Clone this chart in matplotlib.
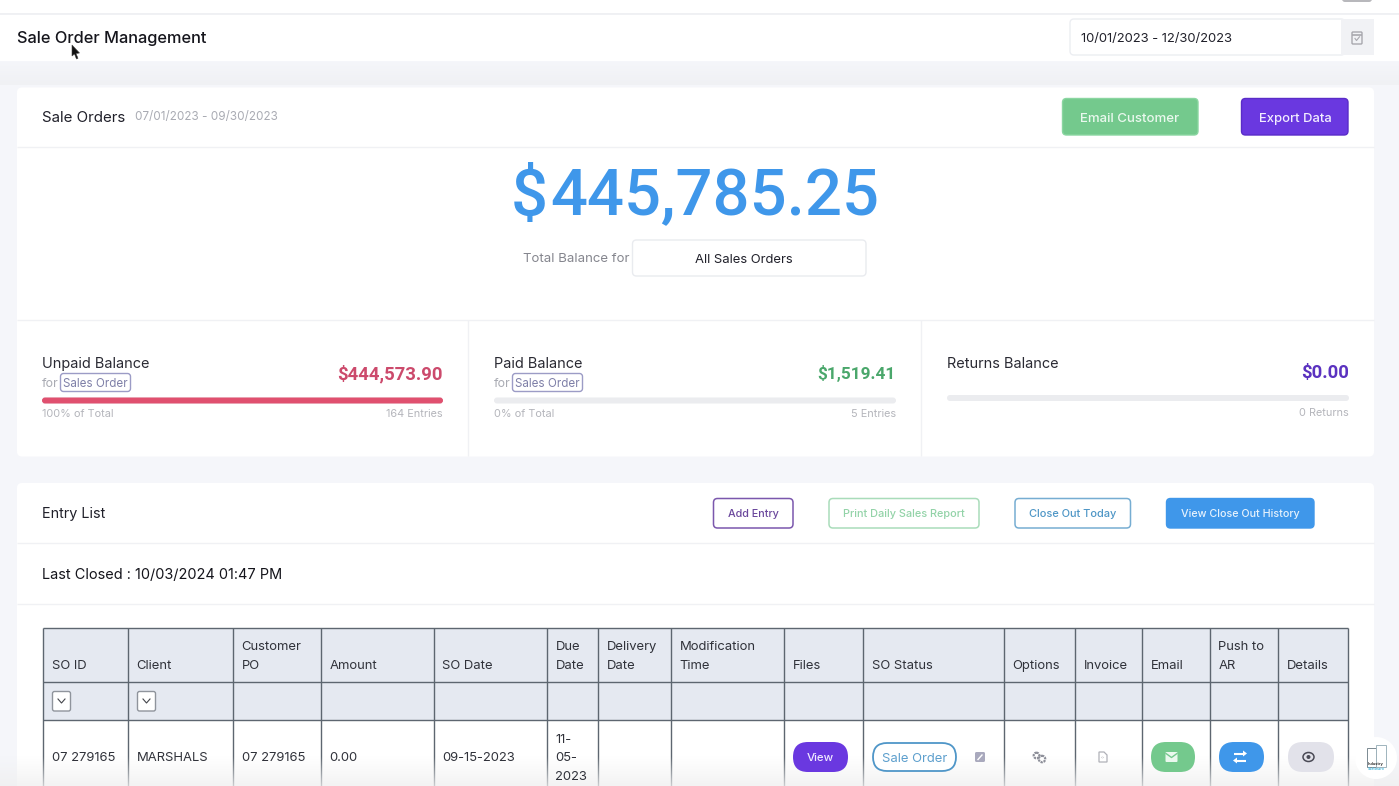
import numpy as np
import matplotlib
matplotlib.use('Agg')
import matplotlib.pyplot as plt
from matplotlib.patches import FancyBboxPatch, Rectangle, Polygon, Circle, Ellipse

plt.rcParams['font.family'] = ['Inter', 'DejaVu Sans']

# text and values
page_title = 'Sale Order Management'
date_range = '10/01/2023 - 12/30/2023'
card_title = 'Sale Orders'
card_range = '07/01/2023 - 09/30/2023'
total_balance = '$445,785.25'
balance_label = 'Total Balance for'
balance_filter = 'All Sales Orders'

kpi_names = ['Unpaid Balance', 'Paid Balance', 'Returns Balance']
kpi_values = ['$444,573.90', '$1,519.41', '$0.00']
kpi_shares = [100, 0, 0]
kpi_left = ['100% of Total', '0% of Total', '']
kpi_right = ['164 Entries', '5 Entries', '0 Returns']
kpi_colors = ['#cc4a6c', '#4aa76b', '#5b32c0']

list_title = 'Entry List'
last_closed = 'Last Closed : 10/03/2024 01:47 PM'
table_headers = ['SO ID', 'Client', 'Customer\nPO', 'Amount', 'SO Date', 'Due\nDate', 'Delivery\nDate',
                 'Modification\nTime', 'Files', 'SO Status', 'Options', 'Invoice', 'Email', 'Push to\nAR', 'Details']
table_row = ['07 279165', 'MARSHALS', '07 279165', '0.00', '09-15-2023', '11-\n05-\n2023']
col_edges = [43, 128, 233, 321, 434, 547, 598, 671, 784, 863, 1004, 1075, 1142, 1210, 1278, 1348]

PAGE = '#f5f6fa'
DARK = '#1c1c24'
GREY = '#a9abb3'
BLUE = '#3f97ea'
PURPLE = '#6a38e0'
GREEN = '#74c98d'


def box(ax, x0, y0, x1, y1, fc='white', ec='none', lw=1.0, r=3, z=2):
    ax.add_patch(FancyBboxPatch((x0, y0), x1 - x0, y1 - y0, boxstyle=f'round,pad=0,rounding_size={r}',
                                fc=fc, ec=ec, lw=lw, zorder=z))


def label(ax, x, y, s, px, color=DARK, ha='left', weight='normal', family=None, z=5):
    # y is the middle of the capitals, so descenders do not shift the line
    kw = {'family': family} if family else {}
    ax.text(x, y + 0.36 * px, s, fontsize=px * 0.72, color=color, ha=ha, va='baseline', weight=weight, zorder=z, **kw)


def hline(ax, x0, x1, y, color='#f0f1f4', lw=1.0, z=3):
    ax.plot([x0, x1], [y, y], color=color, lw=lw, zorder=z, solid_capstyle='butt')


def vline(ax, x, y0, y1, color='#f0f1f4', lw=1.0, z=3):
    ax.plot([x - 0.5, x - 0.5], [y0, y1], color=color, lw=lw, zorder=z, solid_capstyle='butt')


fig = plt.figure(figsize=(13.99, 7.86), dpi=100, facecolor=PAGE)
ax = fig.add_axes([0, 0, 1, 1])
ax.set_xlim(0, 1399)
ax.set_ylim(786, 0)
ax.axis('off')

# top strip and page header
ax.add_patch(Rectangle((0, 0), 1399, 13, fc='white', ec='none', zorder=1))
hline(ax, 0, 1399, 13.5, color='#eeeff2', lw=1.2)
ax.add_patch(Rectangle((0, 14), 1399, 47, fc='white', ec='none', zorder=1))
box(ax, 1342, -6, 1372, 2, fc='#b8b8bc', r=3)
shade = np.linspace(0, 1, 24).reshape(-1, 1)
ax.imshow(shade, extent=[0, 1399, 85, 61], cmap=matplotlib.colors.LinearSegmentedColormap.from_list(
    'hdr', ['#f5f6fa', '#f0f1f4']), aspect='auto', zorder=1.5)
ax.set_xlim(0, 1399)
ax.set_ylim(786, 0)
label(ax, 17, 37, page_title, 16.4, color='#15151c', weight='medium')

# cursor
ax.add_patch(Polygon([(72, 45), (72, 56), (74.5, 54), (76.5, 59), (78, 58.3), (76, 53.5), (79.5, 53)],
                     fc='#111111', ec='#444444', lw=0.4, zorder=6))

# date picker
box(ax, 1070, 19, 1345, 55, fc='white', ec='#eceef2', r=4)
ax.add_patch(Rectangle((1341, 19), 33, 36, fc='#f1f2f5', ec='none', zorder=3))
label(ax, 1081, 37, date_range, 13.0, color='#20202a')
box(ax, 1352, 32, 1362, 44, fc='none', ec='#a8a8ae', lw=1.0, r=1, z=4)
hline(ax, 1352, 1362, 35, color='#a8a8ae', lw=1.2, z=4)
ax.plot([1355, 1356.5, 1359.5], [38.5, 40.5, 36.8], color='#a8a8ae', lw=0.8, zorder=4)

# sale orders card
box(ax, 17, 87.5, 1374, 456.5, fc='white', r=5)
hline(ax, 17, 1374, 147)
hline(ax, 17, 1374, 320)
vline(ax, 468.5, 320, 456)
vline(ax, 921.5, 320, 456)
label(ax, 42, 116.5, card_title, 15.1, color='#20202a')
label(ax, 135, 116, card_range, 11.7, color=GREY)
box(ax, 1062.5, 98.5, 1198, 135, fc=GREEN, ec='#8ad6a1', r=4)
label(ax, 1130, 117, 'Email Customer', 13.2, color='#eaf8ee', ha='center', weight='medium')
box(ax, 1241.5, 98.5, 1348, 135, fc=PURPLE, ec='#5a2cc8', r=4)
label(ax, 1295, 117, 'Export Data', 13.0, color='#f2edff', ha='center', weight='medium')
label(ax, 511, 192, total_balance[0], 65.2, color=BLUE, weight='medium', family='Roboto')
label(ax, 879, 192, total_balance[1:], 65.2, color=BLUE, ha='right', weight='medium', family='Roboto')
label(ax, 523, 257, balance_label, 13.2, color='#85868e')
box(ax, 632.5, 240, 866, 276, fc='white', ec='#e9ebef', r=4)
label(ax, 744, 258, balance_filter, 13.0, color='#20202a', ha='center')

# balance panels
track_x = [(42, 443), (494, 896), (947, 1349)]
value_px = [18.5, 17.3, 18.5]
for i, (x0, x1) in enumerate(track_x):
    returns = kpi_names[i].startswith('Returns')
    label(ax, x0, 363, kpi_names[i], 14.5, color='#2a2a33')
    label(ax, x1, 371 if returns else 372.5, kpi_values[i], value_px[i], color=kpi_colors[i], ha='right', weight='bold', family='Roboto')
    ty = 398 if returns else 400.5
    box(ax, x0, ty - 3, x1, ty + 3, fc='#ebecef', r=3)
    if kpi_shares[i] > 0:
        box(ax, x0, ty - 3, x0 + (x1 - x0) * kpi_shares[i] / 100, ty + 3, fc='#e0506f', r=3, z=3)
    if not returns:
        label(ax, x0, 382.5, 'for', 12.4, color=GREY)
        box(ax, x0 + 18.5, 373.5, x0 + 88.5, 391.5, fc='white', ec='#9c9cc6', lw=1.0, r=3)
        label(ax, x0 + 53.5, 382.5, 'Sales Order', 11.6, color='#7f80a8', ha='center')
        label(ax, x0, 413.5, kpi_left[i], 10.9, color='#b4b5bb')
    label(ax, x1, 412 if returns else 413.5, kpi_right[i], 10.9, color='#b4b5bb', ha='right')

# entry list card
box(ax, 17, 483, 1374, 800, fc='white', r=5)
hline(ax, 17, 1374, 543)
hline(ax, 17, 1374, 603.5)
label(ax, 42, 512.5, list_title, 14.4, color='#20202a')
label(ax, 42, 573.5, last_closed, 14.5, color='#15151c')
box(ax, 713.5, 498.5, 793, 528, fc='white', ec='#7b57ad', lw=1.1, r=4)
label(ax, 753.5, 513, 'Add Entry', 10.8, color='#6a479c', ha='center', weight='medium')
box(ax, 829, 498.5, 979, 528, fc='white', ec='#a9dcba', lw=1.1, r=4)
label(ax, 904, 513, 'Print Daily Sales Report', 10.9, color='#93d3a8', ha='center', weight='medium')
box(ax, 1015, 498.5, 1130.5, 528, fc='white', ec='#76add2', lw=1.1, r=4)
label(ax, 1073, 513, 'Close Out Today', 11.0, color='#4e96c6', ha='center', weight='medium')
box(ax, 1166.5, 498.5, 1314, 528, fc=BLUE, ec='#3f97ea', r=4)
label(ax, 1240, 513, 'View Close Out History', 10.7, color='#e6f2fd', ha='center', weight='medium')

# table
row_y = [628, 682, 720]
ax.add_patch(Rectangle((43, 628), 1305, 92, fc='#e5e9f1', ec='none', zorder=2.5))
for y in row_y:
    hline(ax, 43, 1348, y, color='#5d6670', lw=1.0, z=4)
for x in col_edges:
    vline(ax, x, 628, 790, color='#5d6670', lw=1.0, z=4)
for i, h in enumerate(table_headers):
    lines = h.split('\n')
    tx = col_edges[i] + 8.5
    if len(lines) == 2:
        label(ax, tx, 645.5, lines[0], 13.0, color='#30323a')
    label(ax, tx, 664, lines[-1], 13.0, color='#30323a')
for x in (52, 137):
    box(ax, x + 0.5, 691.5, x + 18.5, 711, fc='white', ec='#8f949c', lw=1.0, r=2, z=5)
    ax.plot([x + 6, x + 9.5, x + 13], [699, 703, 699], color='#44464c', lw=0.8, zorder=6)
for i, v in enumerate(table_row):
    tx = col_edges[i] + 8.5
    parts = v.split('\n')
    if len(parts) == 3:
        for p, y in zip(parts, (738, 756.5, 775)):
            label(ax, tx, y, p, 13.0, color='#30323a')
    else:
        label(ax, tx, 756.5, v, 13.0, color='#30323a')

# row buttons
box(ax, 793, 742, 848, 772, fc=PURPLE, r=15, z=5)
label(ax, 820.5, 757, 'View', 11.5, color='#f0eaff', ha='center', z=6, weight='medium')
box(ax, 873, 743, 956, 771, fc='white', ec='#4f96c8', lw=1.3, r=14, z=5)
label(ax, 914.5, 757, 'Sale Order', 13.0, color='#5d9fcd', ha='center', z=6)
box(ax, 975, 752, 985, 762, fc='#a9a9bd', r=1.5, z=5)
ax.plot([978, 982], [759.5, 755], color='white', lw=1.0, zorder=6)
# gears
for cx, cy, rad in ((1036.5, 755.5, 2.8), (1042, 759, 3.2)):
    ax.add_patch(Circle((cx, cy), rad, fc='none', ec='#8d8f99', lw=1.6, ls=(0, (1, 0.4)), zorder=6))
# file icon
ax.add_patch(Polygon([(1099, 752), (1104, 752), (1107, 755), (1107, 762), (1099, 762)], fc='white', ec='#b0b1b8', lw=0.9, zorder=6))
label(ax, 1103, 757.5, '‹›', 5, color='#9c9da5', ha='center', z=7, family='DejaVu Sans')
box(ax, 1151, 742, 1195, 772, fc=GREEN, r=15, z=5)
box(ax, 1165.5, 752, 1177.5, 762, fc='#eaf8ee', r=1, z=6)
ax.plot([1166, 1171.5, 1177], [753.5, 757.5, 753.5], color=GREEN, lw=1.0, zorder=7)
box(ax, 1219, 742, 1264, 772, fc=BLUE, r=15, z=5)
# swap arrows
ax.plot([1234, 1243], [753.5, 753.5], color='white', lw=1.5, zorder=6, solid_capstyle='butt')
ax.add_patch(Polygon([(1243, 750.5), (1247, 753.5), (1243, 756.5)], fc='white', ec='none', zorder=6))
ax.plot([1237, 1246], [760.5, 760.5], color='white', lw=1.5, zorder=6, solid_capstyle='butt')
ax.add_patch(Polygon([(1237, 757.5), (1233, 760.5), (1237, 763.5)], fc='white', ec='none', zorder=6))
box(ax, 1288, 742, 1334, 772, fc='#e2e2ea', r=15, z=5)
ax.add_patch(Ellipse((1308.5, 757), 11, 9, fc='none', ec='#4a4a55', lw=1.1, zorder=6))
ax.add_patch(Circle((1308.5, 757), 2, fc='#4a4a55', ec='none', zorder=6))

# fade at the bottom of the frame, under the text
fade = np.zeros((40, 2, 4))
fade[..., :3] = 0.94
fade[..., 3] = np.linspace(0, 0.75, 40).reshape(-1, 1)
ax.imshow(fade, extent=[0, 1399, 786, 756], aspect='auto', zorder=4.5)
ax.set_xlim(0, 1399)
ax.set_ylim(786, 0)

# watermark logo
ax.add_patch(Circle((1376, 758), 21, fc='white', ec='none', zorder=9))
ax.add_patch(Rectangle((1366.5, 748), 9, 19, fc='none', ec='#7b8a92', lw=0.7, zorder=10))
ax.add_patch(Rectangle((1375.5, 745), 10, 22, fc='none', ec='#9fb4bd', lw=0.7, zorder=10))
label(ax, 1376, 764, 'Industry', 3.8, color='#333333', ha='center', z=10, weight='bold')
label(ax, 1376, 768.5, 'Software', 3.8, color='#55bde0', ha='center', z=10, weight='bold')

fig.savefig('out.png', dpi=100, facecolor=fig.get_facecolor())
